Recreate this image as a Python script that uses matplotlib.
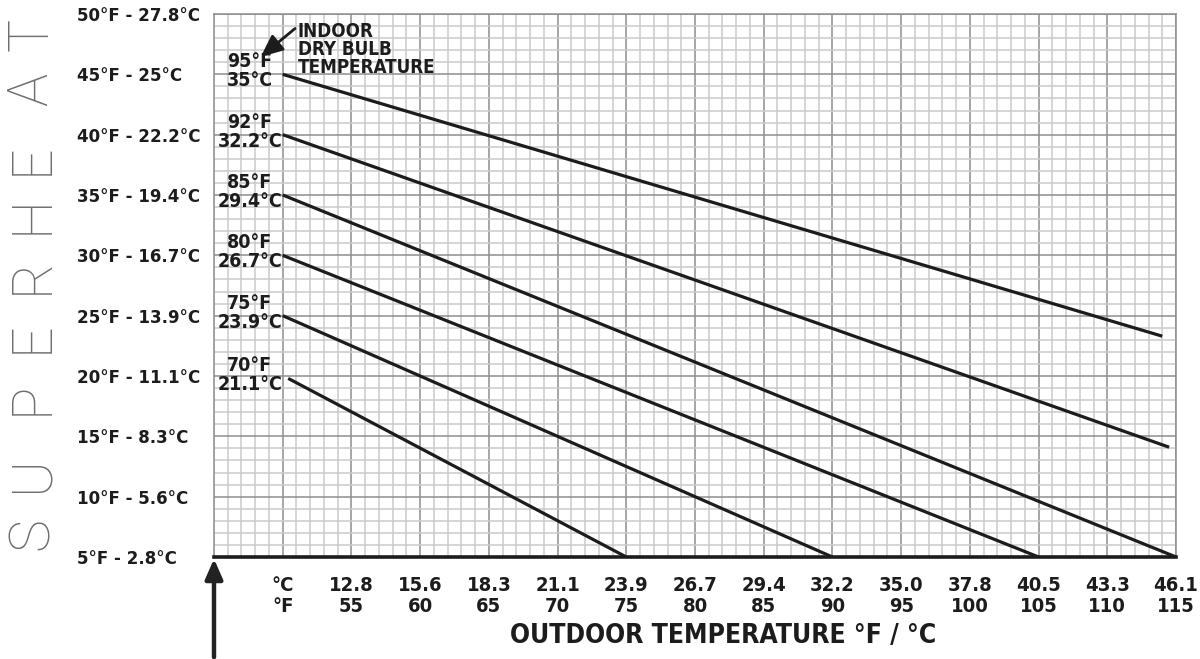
"""Superheat chart: required superheat vs outdoor temperature per indoor dry bulb."""

import matplotlib
matplotlib.use("Agg")
import matplotlib.pyplot as plt
import numpy as np

FONT = ["DejaVu Sans", "Liberation Sans"]
INK = "#1c1c1c"

# indoor dry bulb curves (start / end points)
indoor_f = ["95°F", "92°F", "85°F", "80°F", "75°F", "70°F"]
indoor_c = ["35°C", "32.2°C", "29.4°C", "26.7°C", "23.9°C", "21.1°C"]
start_outdoor = [50, 50, 50, 50, 50, 50.4]
start_superheat = [45, 40, 35, 30, 25, 19.8]
end_outdoor = [114.0, 114.5, 115, 105, 90, 75]
end_superheat = [23.3, 14.1, 5, 5, 5, 5]

# axis ticks
outdoor_f_ticks = [50, 55, 60, 65, 70, 75, 80, 85, 90, 95, 100, 105, 110, 115]
outdoor_c_labels = ["°C", "12.8", "15.6", "18.3", "21.1", "23.9", "26.7", "29.4",
                    "32.2", "35.0", "37.8", "40.5", "43.3", "46.1"]
outdoor_f_labels = ["°F", "55", "60", "65", "70", "75", "80", "85",
                    "90", "95", "100", "105", "110", "115"]
superheat_ticks = [5, 10, 15, 20, 25, 30, 35, 40, 45, 50]
superheat_labels = ["5°F - 2.8°C", "10°F - 5.6°C", "15°F - 8.3°C", "20°F - 11.1°C",
                    "25°F - 13.9°C", "30°F - 16.7°C", "35°F - 19.4°C", "40°F - 22.2°C",
                    "45°F - 25°C", "50°F - 27.8°C"]

side_letters = list("SUPERHEAT")

W, H = 1200, 659
fig = plt.figure(figsize=(W / 100, H / 100), dpi=100)
ax = fig.add_axes([214 / W, 1 - 557 / H, (1176 - 214) / W, (557 - 14) / H])
ax.set_xlim(45, 115)
ax.set_ylim(5, 50)

# graph paper grid
ax.set_xticks(np.arange(45, 116, 1), minor=True)
ax.set_yticks(np.arange(5, 51, 1), minor=True)
ax.set_xticks(outdoor_f_ticks,
              [f"{c}\n{f}" for c, f in zip(outdoor_c_labels, outdoor_f_labels)])
ax.set_yticks(superheat_ticks, superheat_labels)
ax.grid(which="minor", color="#cacaca", linewidth=1.1, zorder=0)
ax.grid(which="major", color="#8e8e8e", linewidth=1.1, zorder=1)
ax.set_axisbelow(True)
ax.tick_params(which="both", length=0)
ax.tick_params(axis="x", pad=14)
ax.tick_params(axis="y", pad=98.6)
for lab in ax.get_xticklabels():
    lab.set_fontfamily(FONT)
    lab.set_fontstretch("condensed")
    lab.set_fontweight("bold")
    lab.set_fontsize(14.5)
    lab.set_color(INK)
    lab.set_linespacing(1.12)
for lab in ax.get_yticklabels():
    lab.set_fontfamily(FONT)
    lab.set_fontstretch("condensed")
    lab.set_fontweight("bold")
    lab.set_fontsize(13.3)
    lab.set_color(INK)
    lab.set_horizontalalignment("left")

for side in ["left", "top", "right"]:
    ax.spines[side].set_color("#8e8e8e")
    ax.spines[side].set_linewidth(1.1)
ax.spines["bottom"].set_color(INK)
ax.spines["bottom"].set_linewidth(2.6)
ax.spines["bottom"].set_zorder(5)

txt = dict(fontweight="bold", family=FONT, fontstretch="condensed", color=INK)

# curves + their labels
for fl, cl, x0, y0, x1, y1 in zip(indoor_f, indoor_c, start_outdoor, start_superheat,
                                  end_outdoor, end_superheat):
    ax.plot([x0, x1], [y0, y1], color=INK, linewidth=2.3, solid_capstyle="butt", zorder=4)
    ax.text(47.6, y0 + 0.25, f"{fl}\n{cl}", ha="center", va="center", fontsize=14,
            linespacing=1.0, zorder=6, **txt)

ax.text(51.1, 49.35, "INDOOR\nDRY BULB\nTEMPERATURE", ha="left", va="top", fontsize=13.5,
        linespacing=0.95, zorder=6, **txt)
ax.annotate("", xy=(48.4, 46.45), xytext=(50.9, 48.8),
            arrowprops=dict(arrowstyle="-|>,head_length=0.9,head_width=0.4",
                            color=INK, lw=2, mutation_scale=15, shrinkA=0, shrinkB=0),
            zorder=6)

# arrow under the superheat axis
ax.annotate("", xy=(45, 4.85), xytext=(45, -3.3), annotation_clip=False,
            arrowprops=dict(arrowstyle="-|>,head_length=0.8,head_width=0.35",
                            color="#222222", lw=3.2, mutation_scale=15,
                            shrinkA=0, shrinkB=0))

fig.text(723 / W, 1 - 636 / H, "OUTDOOR TEMPERATURE °F / °C", ha="center", va="center",
         fontsize=19, **txt)

# big spaced-out side title, one letter at a time
letter_y = [534, 474, 398, 337, 276, 215, 159, 89, 34]
for ch, yp in zip(side_letters, letter_y):
    fig.text(32 / W, 1 - yp / H, ch, rotation=90, ha="center", va="center",
             fontsize=40, fontweight="light", family=["Roboto", "DejaVu Sans"],
             color="#6e6e6e")

fig.savefig("out.png", dpi=100)
